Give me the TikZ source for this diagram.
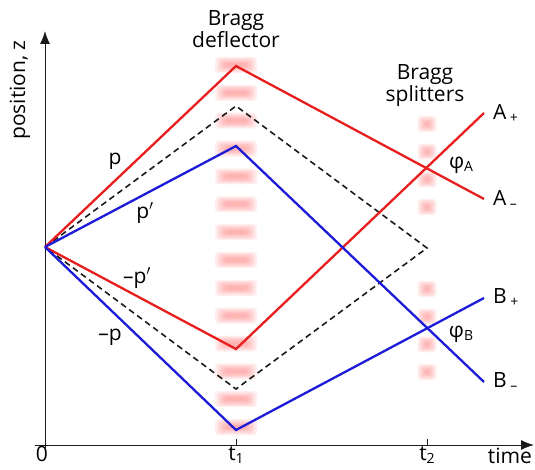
\documentclass[tikz,border=0pt]{standalone}
\usepackage{fontspec}
\setmainfont{Open Sans}
\usetikzlibrary{arrows.meta, positioning}
\definecolor{rayred}{HTML}{E81E1E}
\definecolor{rayblue}{HTML}{1C1CD8}
\definecolor{ink}{HTML}{1A1A1A}
\definecolor{laser}{HTML}{FF4A4A}
\tikzset{
  axis/.style  ={draw=ink, line width=1pt, -{Latex[length=13pt,width=10pt]}},
  pathr/.style ={draw=rayred, line width=2.3pt},
  pathb/.style ={draw=rayblue, line width=2.3pt},
  pathm/.style ={draw=ink, line width=1.6pt, dash pattern=on 6pt off 4pt},
  glow/.style  ={fill=laser, opacity=0.085, rounded corners=3pt},
  lbl/.style   ={font=\fontsize{21}{19}\selectfont, inner sep=1pt}
}
\newcommand{\subs}[1]{\raisebox{-3pt}{\fontsize{14}{14}\selectfont #1}}

\begin{document}
\begin{tikzpicture}[x=1pt, y=-1pt]
  \useasboundingbox (0,0) rectangle (535,470);

  % laser pulses
  \foreach \k in {0,...,13}
    \foreach \g in {0,2,4,6,8,10}
      \fill[glow] (225-\g, {65+27.85*\k-2-0.6*\g}) rectangle (247+\g, {65+27.85*\k+2+0.6*\g});
  \foreach \yc in {124,151.7,179.4,207,289,316.7,344.4,372}
    \foreach \g in {0,1.5,3,4.5,6,7.5}
      \fill[glow] (425-\g, {\yc-2-0.8*\g}) rectangle (429+\g, {\yc+2+0.8*\g});

  % axes
  \coordinate (xs) at (35,445);
  \coordinate (xe) at (534,445);
  \coordinate (ys) at (45,448);
  \coordinate (ye) at (45,31);
  \draw[axis] (xs) -- (xe);
  \draw[axis] (ys) -- (ye);
  \coordinate (t1) at (236,445);
  \coordinate (t2) at (427,445);
  \draw[ink, line width=0.8pt] (t1) -- ++(0,-6);
  \draw[ink, line width=0.8pt] (t2) -- ++(0,-6);

  % trajectories
  \coordinate (O)  at (45,247);
  \coordinate (Ru) at (236,66);
  \coordinate (Mu) at (236,106);
  \coordinate (Bu) at (236,146);
  \coordinate (Rd) at (236,349);
  \coordinate (Md) at (236,389);
  \coordinate (Bd) at (236,430);
  \coordinate (M2) at (427,248);
  \coordinate (Ap) at (484,113);
  \coordinate (Am) at (484,199);
  \coordinate (Bp) at (484,298);
  \coordinate (Bm) at (484,382);

  \draw[pathm] (O) -- (Mu) -- (M2) -- (Md) -- cycle;
  \draw[pathr] (O) -- (Ru) -- (Am);
  \draw[pathr] (O) -- (Rd) -- (Ap);
  \draw[pathb] (O) -- (Bu) -- (Bm);
  \draw[pathb] (O) -- (Bd) -- (Bp);

  % labels
  \node[lbl, align=center] (defl) at (236,29) {Bragg\\deflector};
  \node[lbl, align=center] (splt) at (425,86) {Bragg\\splitters};
  \node[lbl, rotate=90]    (zlab) at (20,90)  {position, z};
  \node[lbl] (tlab) at (510,456) {time};
  \node[lbl, below=0pt of xs, xshift=7pt] (zero) {0};
  \node[lbl, below=0pt of t1] (t1lab) {t\subs{1}};
  \node[lbl, below=0pt of t2] (t2lab) {t\subs{2}};

  \node[lbl] (pp)  at (115,161) {p};
  \node[lbl] (pq)  at (145,213) {p$'$};
  \node[lbl] (mq)  at (137,278) {--p$'$};
  \node[lbl] (mp)  at (110,337) {--p};

  \node[lbl, right=8pt of Ap] (Aplab) {A\,\subs{+}};
  \node[lbl, right=8pt of Am] (Amlab) {A\,\subs{--}};
  \node[lbl, right=8pt of Bp] (Bplab) {B\,\subs{+}};
  \node[lbl, right=8pt of Bm] (Bmlab) {B\,\subs{--}};
  \node[lbl] (phiA) at (461,165) {φ\subs{A}};
  \node[lbl] (phiB) at (461,334) {φ\subs{B}};
\end{tikzpicture}
\end{document}
